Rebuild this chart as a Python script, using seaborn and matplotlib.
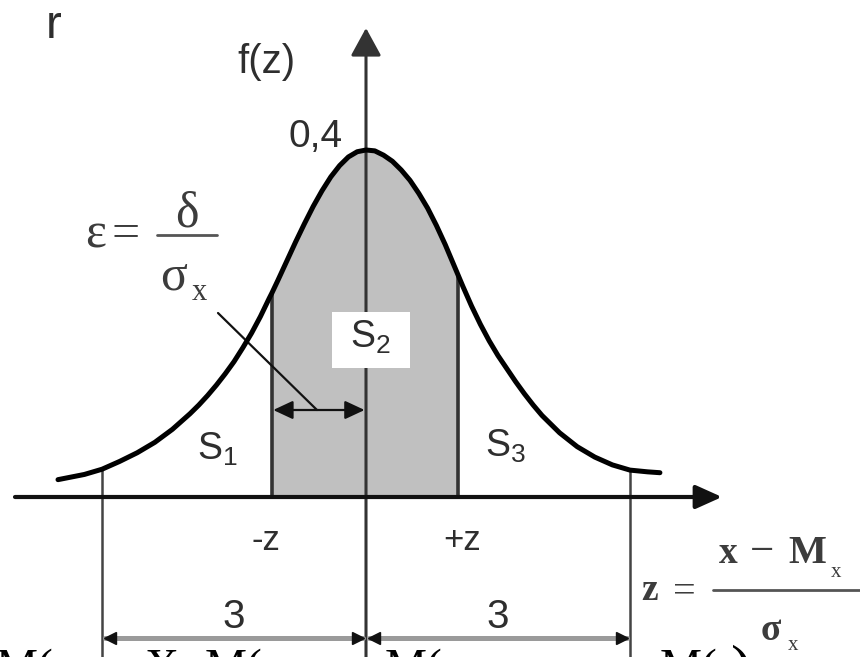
import numpy as np
import matplotlib
matplotlib.use("Agg")
import matplotlib.pyplot as plt
from matplotlib.patches import FancyArrowPatch, Rectangle
import seaborn as sns

# =============================================================================
# Normal density f(z) with the central area S2 between -z and +z
# =============================================================================

# curve (z in sigma units, f(z))
Z_CURVE = [-3.5, -3.4, -3.2, -3.0, -2.8, -2.6, -2.4, -2.2, -2.0,
           -1.9, -1.8, -1.7, -1.6, -1.5, -1.4, -1.3, -1.2, -1.1, -1.07,
           -1.0, -0.9, -0.8, -0.7, -0.6, -0.5, -0.4, -0.3, -0.2, -0.1,
           0.0,
           0.1, 0.2, 0.3, 0.4, 0.5, 0.6, 0.7, 0.8, 0.9, 1.0, 1.05,
           1.1, 1.2, 1.3, 1.4, 1.5, 1.6, 1.7, 1.8, 1.9, 2.0,
           2.2, 2.4, 2.6, 2.8, 3.0, 3.2, 3.34]
F_CURVE = [0.020, 0.022, 0.026, 0.032, 0.041, 0.051, 0.063, 0.078, 0.096,
           0.106, 0.117, 0.129, 0.142, 0.156, 0.172, 0.189, 0.208, 0.229, 0.235,
           0.250, 0.272, 0.294, 0.315, 0.335, 0.353, 0.369, 0.382, 0.392, 0.398,
           0.400,
           0.399, 0.394, 0.387, 0.377, 0.365, 0.350, 0.333, 0.313, 0.291, 0.267, 0.255,
           0.243, 0.220, 0.199, 0.180, 0.163, 0.148, 0.133, 0.119, 0.106, 0.094,
           0.074, 0.058, 0.046, 0.037, 0.031, 0.029, 0.028]

Z_BOUNDS = [-1.07, 1.05]        # -z, +z
BOUND_LABELS = ["-z", "+z"]
SPAN = [-3.0, 3.0]              # three sigma
SPAN_LABELS = ["3", "3"]
PEAK_LABEL = "0,4"
AREA_LABELS = ["$\\mathregular{S_1}$", "$\\mathregular{S_2}$", "$\\mathregular{S_3}$"]

z = np.array(Z_CURVE)
f = np.array(F_CURVE)


# pixel -> data helpers for placing annotations (axis at x=366, y=497)
def fx(px):
    return (px - 366) / 88.0


def fy(py):
    return (497 - py) / 867.5


sns.set_theme(style="white")
plt.rcParams["font.family"] = ["Liberation Sans", "DejaVu Sans"]
SERIF = ["Liberation Serif", "DejaVu Serif"]
TXT = "#2e2e2e"

fig = plt.figure(figsize=(8.6, 6.57), dpi=100)
ax = fig.add_axes([0, 0, 1, 1])
ax.set_xlim(fx(0), fx(860))
ax.set_ylim(fy(657), fy(0))
ax.axis("off")
y_bot = fy(657)

# shaded S2
inside = (z >= Z_BOUNDS[0]) & (z <= Z_BOUNDS[1])
ax.fill_between(z, 0, f, where=inside, color="#c0c0c0", lw=0, zorder=1)

# density curve
sns.lineplot(x=z, y=f, color="black", lw=3.6, ax=ax, zorder=6,
             solid_capstyle="round", solid_joinstyle="round")

# -z / +z verticals
f_bounds = [f[Z_CURVE.index(b)] for b in Z_BOUNDS]
ax.vlines(Z_BOUNDS, 0, f_bounds, color="#333333", lw=2.6, zorder=3)

# +-3 sigma verticals running down to the bottom edge
f_span = [f[Z_CURVE.index(s)] for s in SPAN]
ax.vlines(SPAN, y_bot, f_span, color="#444444", lw=1.8, zorder=3)

# axes with arrows
ax.add_patch(FancyArrowPatch((0, y_bot), (0, fy(28)),
                             arrowstyle="-|>,head_length=0.86,head_width=0.47",
                             mutation_scale=20, lw=2.2, color="#333333",
                             shrinkA=0, shrinkB=0, zorder=3))
ax.add_patch(FancyArrowPatch((fx(15), 0), (fx(722), 0),
                             arrowstyle="-|>,head_length=0.8,head_width=0.36",
                             mutation_scale=20, lw=3.0, color="#111111",
                             shrinkA=0, shrinkB=0, zorder=5))

# white box behind S2
ax.add_patch(Rectangle((fx(332), fy(368)), 78 / 88.0, 56 / 867.5,
                       facecolor="white", edgecolor="none", zorder=4))

# epsilon marker and pointer
y_eps = fy(410)
ax.add_patch(FancyArrowPatch((Z_BOUNDS[0], y_eps), (0, y_eps),
                             arrowstyle="<|-|>,head_length=0.6,head_width=0.28",
                             mutation_scale=20, lw=1.6, color="#111111",
                             shrinkA=1, shrinkB=1, zorder=5))
ax.plot([fx(218), fx(317)], [fy(313), fy(410)], color="#111111", lw=1.6, zorder=5)

# dimension lines for the 3 sigma spans
y_dim = fy(638)
head = 8 / 88.0
for a, b in [(SPAN[0], 0.0), (0.0, SPAN[1])]:
    ax.plot([a + 0.03, b - 0.03], [y_dim, y_dim], color="#9a9a9a", lw=3.6, zorder=3)
    ax.plot([a + head], [y_dim], marker="<", ms=9, color="#111111", zorder=4)
    ax.plot([b - head], [y_dim], marker=">", ms=9, color="#111111", zorder=4)

# labels
ax.text(fx(46), fy(38), "r", fontsize=34, color=TXT)
ax.text(fx(237), fy(73), "f(z)", fontsize=29, color=TXT)
ax.text(fx(288), fy(147), PEAK_LABEL, fontsize=28, color=TXT)
ax.text(fx(197), fy(460), AREA_LABELS[0], fontsize=27, color=TXT, zorder=7)
ax.text(fx(350), fy(348), AREA_LABELS[1], fontsize=27, color=TXT, zorder=7)
ax.text(fx(485), fy(457), AREA_LABELS[2], fontsize=27, color=TXT, zorder=7)
for b, lab, x0 in zip(Z_BOUNDS, BOUND_LABELS, [266, 462]):
    ax.text(fx(x0), fy(550), lab, fontsize=25, color=TXT, ha="center")
for s, lab in zip(SPAN, SPAN_LABELS):
    ax.text(s / 2, fy(628), lab, fontsize=29, color=TXT, ha="center")

# epsilon = delta / sigma_x
SC = "#3c3c3c"
ax.text(fx(85), fy(247), "ε", fontsize=36, family=SERIF, color=SC)
ax.text(fx(112), fy(247), "=", fontsize=36, family=SERIF, color=SC)
ax.plot([fx(157), fx(217)], [fy(235), fy(235)], color="#555555", lw=2)
ax.text(fx(175), fy(227), "δ", fontsize=36, family=SERIF, color=SC)
ax.text(fx(160), fy(290), "σ", fontsize=36, family=SERIF, color=SC)
ax.text(fx(192), fy(300), "x", fontsize=22, family=SERIF, color=SC)

# z = (x - M_x) / sigma_x
ax.text(fx(641), fy(600), "z", fontsize=27, family=SERIF, color=SC, weight="bold")
ax.text(fx(673), fy(602), "=", fontsize=29, family=SERIF, color=SC)
ax.plot([fx(713), fx(860)], [fy(590), fy(590)], color="#555555", lw=2)
ax.text(fx(719), fy(563), "x", fontsize=27, family=SERIF, color=SC, weight="bold")
ax.text(fx(750), fy(563), "−", fontsize=31, family=SERIF, color=SC)
ax.text(fx(788), fy(563), "M", fontsize=29, family=SERIF, color=SC, weight="bold")
ax.text(fx(831), fy(577), "x", fontsize=15, family=SERIF, color=SC)
ax.text(fx(761), fy(640), "σ", fontsize=27, family=SERIF, color=SC, weight="bold")
ax.text(fx(788), fy(650), "x", fontsize=15, family=SERIF, color=SC)

# tops of the next formula, cut by the bottom edge
for s, x0 in [("M(", -4), ("X", 145), ("M(", 205), ("M(", 385), ("M(", 660)]:
    ax.text(fx(x0), fy(681), s, fontsize=34, family=SERIF, color="black")
ax.text(fx(731), fy(688), ")", fontsize=46, family=SERIF, color="black")

fig.savefig("out.png", dpi=100)
plt.close(fig)
